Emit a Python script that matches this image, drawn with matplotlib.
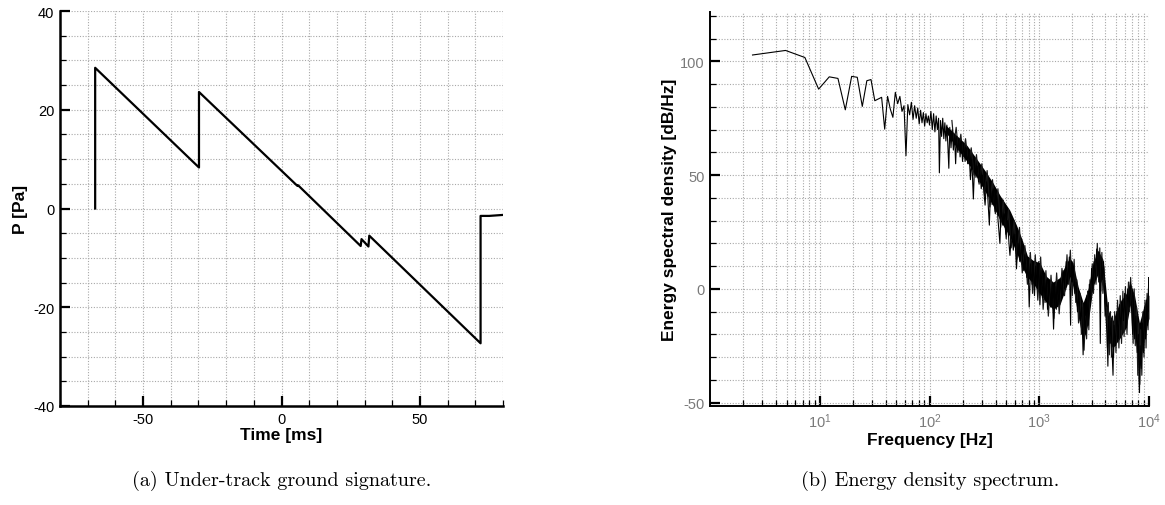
import matplotlib
matplotlib.use("Agg")
import matplotlib.pyplot as plt
import numpy as np
from matplotlib.ticker import MultipleLocator, LogLocator, NullFormatter

plt.rcParams["font.family"] = ["Liberation Sans", "DejaVu Sans"]
plt.rcParams["axes.unicode_minus"] = False

# (a) under-track ground signature, piecewise N-wave with small shocks
time_ms = [-67.3, -67.3, -29.8, -29.8, 5.7, 6.0, 28.6, 28.9, 31.4, 31.7, 71.9, 71.9, 75.0, 80.0]
pressure_pa = [0.0, 28.5, 8.3, 23.6, 4.6, 4.7, -7.6, -6.2, -7.7, -5.5, -27.3, -1.5, -1.5, -1.3]

# (b) energy spectral density, low-frequency resolved part
freq_low = [2.44, 4.88, 7.32, 9.77, 12.21, 14.65, 17.09, 19.53, 21.97, 24.41,
            26.86, 29.30, 31.74, 34.18, 36.62, 39.06, 41.50, 43.95, 46.39, 48.83,
            51.27, 53.71, 56.15, 58.59, 61.04, 63.48, 65.92, 68.36, 70.80, 73.24,
            75.68, 78.13, 80.57, 83.01, 85.45, 87.89, 90.33, 92.77, 95.21, 97.66]
esd_low = [102.8, 104.8, 101.7, 87.8, 93.2, 92.5, 78.7, 93.4, 93.0, 80.2,
           91.5, 92.0, 82.7, 83.5, 84.2, 70.2, 84.6, 79.0, 75.4, 86.4,
           81.4, 84.6, 78.0, 80.5, 58.5, 81.0, 76.5, 82.0, 74.5, 80.5,
           75.0, 79.5, 72.5, 78.5, 73.0, 77.5, 71.5, 77.0, 73.0, 76.0]

# high-frequency part: oscillation peaks / troughs and spikes
freq_high = [100, 103, 106, 109, 112, 115, 118, 121, 123, 126, 129, 132, 135, 138, 141,
             144, 147, 150, 153, 157, 161, 165, 169, 173, 177, 181, 186, 190, 195, 200,
             205, 211, 217, 223, 229, 236, 243, 251, 258, 265, 272, 280, 288, 296, 305,
             314, 321, 330, 340, 351, 360, 372, 384, 396, 408, 420, 438, 450, 465, 480,
             497, 515, 530, 541, 560, 580, 600, 620, 640, 665, 690, 715, 740, 770, 790,
             810, 835, 860, 880, 905, 930, 960, 990, 1014, 1040, 1070, 1100, 1130, 1160, 1190,
             1230, 1270, 1310, 1350, 1390, 1430, 1470, 1510, 1560, 1600, 1650, 1700, 1760, 1820, 1880,
             1930, 1960, 2000, 2050, 2110, 2170, 2230, 2300, 2370, 2440, 2510, 2580, 2650, 2720, 2790,
             2860, 2930, 3000, 3080, 3160, 3250, 3340, 3430, 3520, 3600, 3660, 3750, 3850, 3950, 4050,
             4150, 4220, 4300, 4400, 4500, 4600, 4700, 4800, 4950, 5100, 5250, 5390, 5550, 5700, 5850,
             6000, 6200, 6400, 6600, 6741, 6900, 7100, 7250, 7400, 7600, 7800, 8000, 8100, 8190, 8300,
             8500, 8700, 8900, 9100, 9300, 9500, 9700, 9850, 9950, 10000]
esd_high = [72, 78, 70, 77, 69, 76, 70, 75, 51, 74, 67, 75, 66, 73, 65,
            72, 63, 53, 71, 62, 70, 61, 68, 55, 67, 60, 66, 58, 65, 56,
            64, 56, 62, 55, 61, 48, 57, 39.5, 56, 49, 54, 47, 52, 44, 50,
            42, 36.8, 47, 40, 28, 44, 37, 44, 34, 41, 31, 20, 36, 28, 33,
            24, 30, 20, 14.7, 26, 17, 24, 8.8, 20, 12, 19, 8, 15, 5, 13,
            -8, 11, 2, 12, -3, 10, 0, 12, -7, 8, -4, 6, -6, 4, -9,
            3, -8, 2, -17.7, 1, -9, 3, -7, 4, -4, 8, 0, 12, 3, 14,
            -16, 12, 3, 10, -2, 3, -10, -2, -14, -8, -29, -10, -20, -3, -16,
            2, -6, 9, 0, 12, 4, 17.5, 6, 16, -24, 14, 4, 12, -5, -12,
            -20, -34, -12, -24, -14, -26, -38, -16, -25, -10, -22, -7, -18, -5, -14,
            -2, -17, 0, -8, 3, -5, -20, -3, -22, -12, -28, -20, -40, -45.6, -25,
            -35, -15, -28, -8, -22, -5, -16, -3, 5, -10]

# second pass of fluctuations inside the noisy part of the spectrum
freq_noise = [160, 167, 175, 183, 193, 202, 213, 226, 240, 254, 268, 283, 300, 318, 335,
              355, 375, 398, 420, 445, 470, 500, 525, 555, 590, 625, 660, 700, 740, 780,
              830, 870, 920, 970, 1030, 1085, 1150, 1210, 1280, 1360, 1440, 1520, 1610, 1700, 1790,
              1850, 1920, 2000, 2080, 2150, 2200, 2280, 2350, 2420, 2480, 2560, 2640, 2700, 2760, 2830,
              2900, 2970, 3040, 3120, 3200, 3290, 3380, 3480, 3560, 3640, 3720, 3800, 3880, 3980, 4100,
              4180, 4260, 4350, 4450, 4550, 4650, 4750, 4870, 5000, 5170, 5320, 5470, 5620, 5780, 5930,
              6100, 6300, 6500, 6670, 6800, 7000, 7170, 7330, 7500, 7700, 7900, 8050, 8250, 8400, 8600,
              8800, 9000, 9200, 9400, 9600, 9800, 9900]
esd_noise = [74, 64, 71, 61, 68, 58, 66, 55, 62, 50, 59, 46, 55, 41, 52,
             36, 48, 33, 44, 27, 39, 22, 35, 18, 30, 13, 27, 7, 19, 2,
             16, -2, 15, -5, 14, -9, 8, -12, 6, -13, 7, -11, 9, -3, 15,
             2, 17, -3, 13, -6, 4, -15, -2, -20, -6, -27, -12, -22, -1, -18,
             4, -4, 11, -2, 15, 2, 20, 3, 18, -1, 16, -2, 10, -12, -8,
             -26, -6, -29, -10, -30, -12, -30, -10, -28, -5, -26, -3, -24, -1, -21,
             1, -20, 3, -10, 5, -9, -24, 0, -25, -8, -38, -15, -42, -18, -38,
             -10, -30, -5, -26, -2, -18, 0]

# dense noise band (upper / lower edges of the solid black region)
freq_band = [140, 190, 220, 270, 320, 380, 440, 540, 620, 700, 780, 880, 1010, 1160, 1340, 1540,
             1770, 1900, 2030, 2260, 2510, 2790, 3090, 3430, 3800, 4220, 4680, 5390, 6200, 6740,
             7390, 8180, 9070, 9710, 9990]
band_hi = [72, 66, 63, 57, 52, 46.5, 41, 34.5, 28, 21.5, 14.5, 12.5, 11.5, 5.5, 3, 5,
           11.5, 13.5, 11.5, 1, -6, 0, 11.5, 17, 13, -9, -14, -6, -2, 3,
           -3, -15, -7, -2, -3]
band_lo = [69, 60, 56, 49, 43, 36.5, 30, 23, 16, 9.5, 5, 2.5, -2, -6, -9, -7,
           1, 5.5, 1, -12, -23, -15, 1, 6.5, 1, -22, -26, -22, -17, -7,
           -20, -34, -22, -15, -13]

GRID = dict(color="#a8a8a8", linestyle=(0, (1, 1.5)), linewidth=0.8)

fig = plt.figure(figsize=(11.65, 5.06), dpi=100)
ax1 = fig.add_axes([60 / 1165, 1 - 407 / 506, 443 / 1165, 395 / 506])
ax2 = fig.add_axes([710 / 1165, 1 - 407 / 506, 439 / 1165, 394 / 506])

for ax in (ax1, ax2):
    for side in ("top", "right"):
        ax.spines[side].set_visible(False)
    ax.set_axisbelow(True)
    ax.grid(which="both", **GRID)
    ax.tick_params(which="major", direction="in", length=7, width=1.6, pad=4)
    ax.tick_params(which="minor", direction="in", length=4, width=0.9)

# left panel
ax1.plot(time_ms, pressure_pa, color="black", linewidth=1.6)
ax1.set_xlim(-80, 80)
ax1.set_ylim(-40, 40)
ax1.xaxis.set_major_locator(MultipleLocator(50))
ax1.xaxis.set_minor_locator(MultipleLocator(10))
ax1.yaxis.set_major_locator(MultipleLocator(20))
ax1.yaxis.set_minor_locator(MultipleLocator(5))
for side in ("left", "bottom"):
    ax1.spines[side].set_linewidth(1.8)
ax1.tick_params(labelsize=10.5, labelcolor="black")
ax1.set_xlabel("Time [ms]", fontsize=12.5, fontweight="bold", labelpad=1)
ax1.set_ylabel("P [Pa]", fontsize=12.5, fontweight="bold", labelpad=4)

# right panel
ax2.fill_between(freq_band, band_lo, band_hi, color="black", linewidth=0)
ax2.plot(freq_noise, esd_noise, color="#1a1a1a", linewidth=0.85)
ax2.plot(freq_low + freq_high, esd_low + esd_high, color="black", linewidth=0.8)
ax2.set_xscale("log")
ax2.set_xlim(1.0, 1e4)
ax2.set_ylim(-51.5, 121.7)
ax2.xaxis.set_major_locator(LogLocator(base=10, numticks=10))
ax2.xaxis.set_minor_locator(LogLocator(base=10, subs=np.arange(2, 10), numticks=50))
ax2.xaxis.set_minor_formatter(NullFormatter())
ax2.set_xticks([10, 100, 1000, 10000])
ax2.yaxis.set_major_locator(MultipleLocator(50))
ax2.yaxis.set_minor_locator(MultipleLocator(10))
for side in ("left", "bottom"):
    ax2.spines[side].set_linewidth(1.4)
ax2.tick_params(labelsize=10.5, labelcolor="#7a7a7a")
ax2.set_xlabel("Frequency [Hz]", fontsize=12.5, fontweight="bold", labelpad=1)
ax2.set_ylabel("Energy spectral density [dB/Hz]", fontsize=12.5, fontweight="bold", labelpad=2)

fig.text(282 / 1165, 1 - 481 / 506, "(a) Under-track ground signature.",
         family="cmr10", fontsize=14.5, ha="center", va="center")
fig.text(930 / 1165, 1 - 481 / 506, "(b) Energy density spectrum.",
         family="cmr10", fontsize=14.5, ha="center", va="center")

fig.savefig("out.png", dpi=100)
